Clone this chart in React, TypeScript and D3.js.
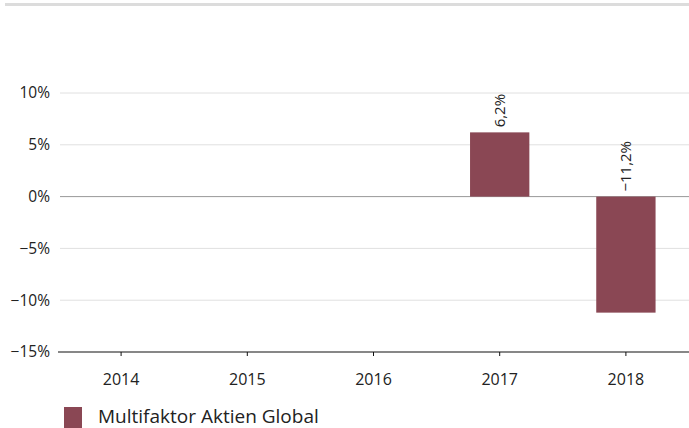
import React from "react";
import * as d3 from "d3";

const years = ["2014", "2015", "2016", "2017", "2018"];
const values: (number | null)[] = [null, null, null, 6.2, -11.2];
const yTicks = [10, 5, 0, -5, -10, -15];
const seriesName = "Multifaktor Aktien Global";

const W = 689;
const H = 428;
const left = 58;
const right = 689;
const top = 93;
const bottom = 352;
const color = "#8a4754";
const font = "'Open Sans', 'DejaVu Sans', sans-serif";

export default function App() {
  const x = d3.scaleBand<string>().domain(years).range([left, right]).padding(0);
  const y = d3.scaleLinear().domain([-15, 10]).range([bottom, top]);
  const bw = x.bandwidth() * 0.47;
  const fmt = (v: number) => (v < 0 ? "\u2212" : "") + Math.abs(v).toFixed(1).replace(".", ",") + "%";
  const tickFmt = (v: number) => (v < 0 ? "\u2212" : "") + Math.abs(v) + "%";
  return (
    <svg width={W} height={H} style={{ position: "absolute", left: 0, top: 0, background: "#fff" }} fontFamily={font}>
      <rect x={5} y={3} width={W - 5} height={3} fill="#dcdcdc" />
      {yTicks.map((t) =>
        t === -15 ? null : (
          <line key={t} x1={left + 2} x2={right} y1={y(t)} y2={y(t)} stroke={t === 0 ? "#999" : "#e0e0e0"} strokeWidth={1} />
        )
      )}
      {yTicks.map((t) => (
        <text key={"l" + t} x={50} y={y(t)} dy="0.35em" textAnchor="end" fontSize={15.5} fill="#222">
          {tickFmt(t)}
        </text>
      ))}
      {years.map((yr, i) => {
        const v = values[i];
        if (v === null) return null;
        const cx = (x(yr) as number) + x.bandwidth() / 2;
        const y0 = y(Math.max(0, v));
        const h = Math.abs(y(v) - y(0));
        const labelY = y(Math.max(0, v)) - 5;
        return (
          <g key={yr}>
            <rect x={cx - bw / 2} y={y0} width={bw} height={h} fill={color} />
            <text transform={`translate(${cx + 5},${labelY}) rotate(-90)`} fontSize={15} fill="#222" textAnchor="start">
              {fmt(v)}
            </text>
          </g>
        );
      })}
      <line x1={left} x2={right} y1={bottom} y2={bottom} stroke="#111" strokeWidth={1.2} />
      {years.map((yr) => {
        const cx = (x(yr) as number) + x.bandwidth() / 2;
        return (
          <g key={"t" + yr}>
            <line x1={cx} x2={cx} y1={bottom} y2={bottom + 4} stroke="#111" />
            <text x={cx} y={385} textAnchor="middle" fontSize={16} fill="#222">
              {yr}
            </text>
          </g>
        );
      })}
      <rect x={64} y={407} width={18} height={21} fill={color} />
      <text x={98} y={423} fontSize={19} fill="#222">
        {seriesName}
      </text>
    </svg>
  );
}
